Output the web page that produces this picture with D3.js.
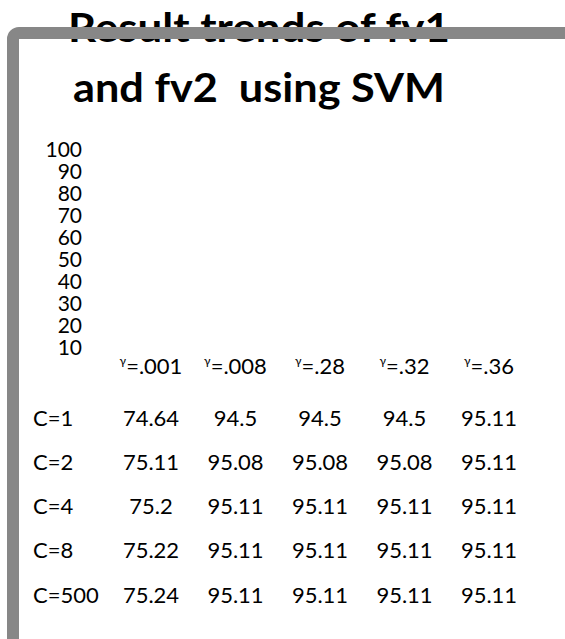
<!DOCTYPE html>
<html>
<head>
<meta charset="utf-8">
<script src="https://cdn.jsdelivr.net/npm/d3@7"></script>
<style>
  body { margin: 0; background: #fff; }
  text { font-family: Lato, "Open Sans", sans-serif; fill: #000; }
</style>
</head>
<body>
<svg id="chart" width="565" height="639"></svg>
<script>
const titleLines = ["Result trends of fv1", "and fv2  using SVM"];
const yTicks = [10, 20, 30, 40, 50, 60, 70, 80, 90, 100];
const gammas = [".001", ".008", ".28", ".32", ".36"];
const cLabels = ["C=1", "C=2", "C=4", "C=8", "C=500"];
// accuracy per C row, one value per gamma column
const values = [
  ["74.64", "94.5", "94.5", "94.5", "95.11"],
  ["75.11", "95.08", "95.08", "95.08", "95.11"],
  ["75.2", "95.11", "95.11", "95.11", "95.11"],
  ["75.22", "95.11", "95.11", "95.11", "95.11"],
  ["75.24", "95.11", "95.11", "95.11", "95.11"],
];

const svg = d3.select("#chart");
const fontSize = 22;

// title (the frame is drawn over its first line, like the original)
const titleWidths = [382, 372];
svg.append("g")
  .selectAll("text")
  .data(titleLines)
  .join("text")
  .attr("x", 259)
  .attr("y", (d, i) => 42 + i * 60)
  .attr("text-anchor", "middle")
  .attr("font-weight", "bold")
  .attr("font-size", 40)
  .attr("textLength", (d, i) => titleWidths[i])
  .attr("lengthAdjust", "spacingAndGlyphs")
  .style("white-space", "pre")
  .text((d) => d);

// y axis, labels only
const y = d3.scaleLinear().domain([10, 100]).range([347, 149]);
const yAxis = svg.append("g")
  .attr("transform", "translate(82,0)")
  .call(d3.axisLeft(y).tickValues(yTicks).tickSize(0).tickPadding(0));
yAxis.select(".domain").remove();
yAxis.selectAll("text")
  .attr("font-family", null)
  .attr("font-size", 21)
  .attr("dy", "0.36em");

// table
const x = d3.scalePoint().domain(gammas).range([151, 489]);
const row = d3.scalePoint().domain(cLabels).range([418, 595]);
const headerY = 372;

const header = svg.append("g")
  .selectAll("text")
  .data(gammas)
  .join("text")
  .attr("x", (d) => x(d))
  .attr("y", headerY)
  .attr("dy", "0.35em")
  .attr("text-anchor", "middle")
  .attr("font-size", fontSize);
header.append("tspan")
  .attr("font-size", 12)
  .attr("dy", "-0.6em")
  .text("γ");
header.append("tspan")
  .attr("dy", "0.4em")
  .text((d) => "=" + d);

svg.append("g")
  .selectAll("text")
  .data(cLabels)
  .join("text")
  .attr("x", 33)
  .attr("y", (d) => row(d))
  .attr("dy", "0.35em")
  .attr("font-size", fontSize)
  .text((d) => d);

svg.append("g")
  .selectAll("g")
  .data(values)
  .join("g")
  .attr("transform", (d, i) => `translate(0,${row(cLabels[i])})`)
  .selectAll("text")
  .data((d) => d)
  .join("text")
  .attr("x", (d, j) => x(gammas[j]))
  .attr("dy", "0.35em")
  .attr("text-anchor", "middle")
  .attr("font-size", fontSize)
  .text((d) => d);

// grey frame, only top and left edges inside the view
svg.append("rect")
  .attr("x", 13)
  .attr("y", 33)
  .attr("width", 700)
  .attr("height", 800)
  .attr("rx", 6)
  .attr("fill", "none")
  .attr("stroke", "#878787")
  .attr("stroke-width", 12);
</script>
</body>
</html>
